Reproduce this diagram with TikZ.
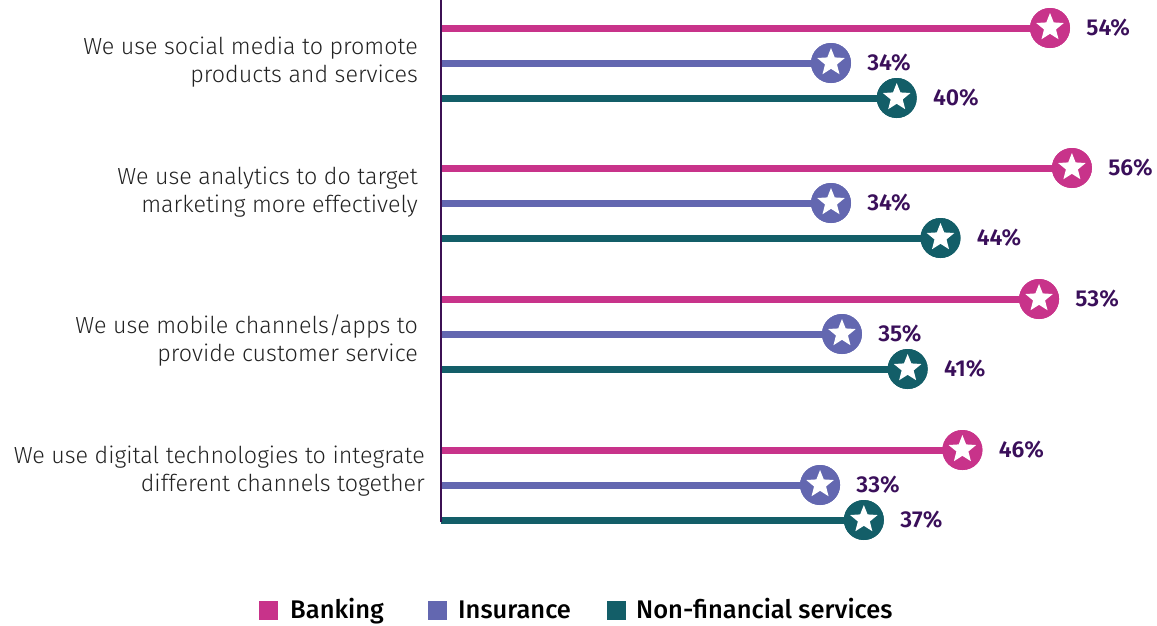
\documentclass[tikz,border=0pt]{standalone}
\usepackage{fontspec}
\setmainfont{Fira Sans Light}[BoldFont=Fira Sans SemiBold]
\newfontfamily\legfont{Fira Sans Medium}
\usetikzlibrary{shapes.geometric}
\definecolor{bank}{HTML}{C8338A}
\definecolor{ins}{HTML}{6367B0}
\definecolor{nfs}{HTML}{135E68}
\definecolor{axisc}{HTML}{3C1053}
\definecolor{pct}{HTML}{3A0F5A}
\definecolor{lbl}{HTML}{222222}
\tikzset{
  bar/.style={line width=7pt},
  dot/.style={circle, minimum size=40pt, inner sep=0pt},
  starmark/.style={star, star points=5, star point ratio=2.3, fill=white, minimum size=29pt, inner sep=0pt},
  pctlabel/.style={anchor=west, text=pct, font=\fontsize{23}{25}\selectfont\bfseries, inner sep=0pt},
  catlabel/.style={anchor=east, align=right, text=lbl, font=\fontsize{23.3}{28}\selectfont, inner sep=0pt},
  legsq/.style={minimum size=19pt, inner sep=0pt},
  legtext/.style={anchor=base west, text=black, font=\fontsize{25.5}{28}\selectfont\legfont, inner sep=0pt}
}
\begin{document}
\begin{tikzpicture}[x=1pt,y=-1pt]
\useasboundingbox (0,0) rectangle (1157,625);
% axis
\coordinate (axtop) at (441,0);
\coordinate (axbot) at (441,522);
% bars: name, y, pct, color
\foreach \n/\y/\p/\c in {a1/28/54/bank,a2/63/34/ins,a3/98/40/nfs,
                          b1/168/56/bank,b2/203/34/ins,b3/238/44/nfs,
                          c1/299/53/bank,c2/334/35/ins,c3/369/41/nfs,
                          d1/450/46/bank,d2/485/33/ins,d3/520/37/nfs}{
  \coordinate (s\n) at (441,\y);
  \node[dot, fill=\c] (e\n) at ({458.7+10.95*\p},\y) {};
  \draw[bar, draw=\c] (s\n) -- (e\n.center);
  \node[dot, fill=\c] at (e\n) {};
  \node[starmark] (st\n) at ([yshift=0.5pt]e\n.center) {};
  \node[pctlabel] (p\n) at ([xshift=16pt]e\n.east) {\p\%};
}
\draw[axisc, line width=2pt] (axtop) -- (axbot);
% category labels
\node[catlabel] (la) at (418,62) {We use social media to promote\\products and services};
\node[catlabel] (lb) at (418,192) {We use analytics to do target\\marketing more effectively};
\node[catlabel] (lc) at (418,341) {We use mobile channels/apps to\\provide customer service};
\node[catlabel] (ld) at (425,471) {We use digital technologies to integrate\\different channels together};
% legend
\node[legsq, fill=bank] (q1) at (268.5,610.5) {};
\node[legtext] (t1) at (290,618.5) {Banking};
\node[legsq, fill=ins] (q2) at (437.5,610.5) {};
\node[legtext] (t2) at (458,618.5) {Insurance};
\node[legsq, fill=nfs] (q3) at (616.5,610.5) {};
\node[legtext] (t3) at (636,618.5) {Non-financial services};
\end{tikzpicture}
\end{document}
